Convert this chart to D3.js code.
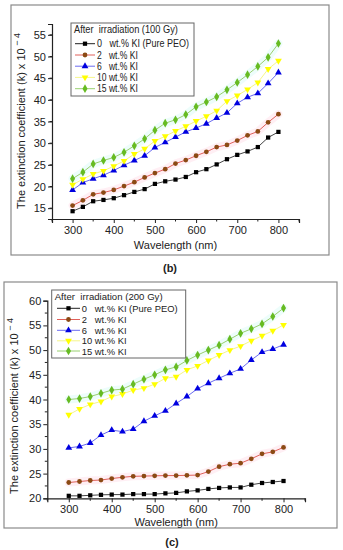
<!DOCTYPE html>
<html><head><meta charset="utf-8">
<script src="https://cdn.jsdelivr.net/npm/d3@7"></script>
<style>
html,body{margin:0;padding:0;background:#fff;}
svg{display:block;}
text{font-family:"Liberation Sans",Arial,sans-serif;fill:#222;}
</style></head>
<body>
<script>
// ---------- DATA ----------
const wavelengths = [300,325,350,375,400,425,450,475,500,525,550,575,600,625,650,675,700,725,750,775,800];
const seriesLabels = ["0   wt.% KI (Pure PEO)","2   wt.% KI","6   wt.% KI","10 wt.% KI","15 wt.% KI"];
const xTicks = [300,400,500,600,700,800];

// (b) After irradiation (100 Gy)
const b_0wt  = [14.3,15.3,16.6,16.9,17.3,18.0,18.75,19.4,20.6,21.2,21.6,22.2,23.3,24.0,25.1,26.3,27.3,28.1,29.1,31.3,32.6];
const b_2wt  = [15.6,16.8,18.2,18.6,19.2,20.1,21.0,22.1,23.1,24.0,25.3,26.1,27.1,28.0,29.1,29.6,30.6,31.8,32.7,34.8,36.7];
const b_6wt  = [19.2,20.9,21.8,22.6,23.7,24.9,26.0,27.1,29.0,30.2,31.4,32.6,33.5,34.5,35.8,37.0,39.2,40.6,41.5,43.8,46.3];
const b_10wt = [20.4,21.7,22.9,23.6,24.7,25.9,27.5,28.7,30.5,31.6,32.8,33.9,35.1,36.2,37.5,39.7,41.0,42.4,44.0,47.1,49.0];
const b_15wt = [21.8,23.3,25.2,26.0,26.7,27.9,29.4,31.0,33.0,34.6,35.4,36.6,38.4,39.5,40.7,42.3,44.0,45.8,47.7,49.8,53.0];
const b_yTicks = [15,20,25,30,35,40,45,50,55];

// (c) After irradiation (200 Gy)
const c_0wt  = [20.5,20.5,20.6,20.7,20.75,20.75,20.85,20.85,20.85,21.0,21.1,21.4,21.6,21.9,22.1,22.2,22.2,22.75,23.1,23.3,23.5];
const c_2wt  = [23.2,23.4,23.6,23.7,24.0,24.25,24.45,24.5,24.55,24.6,24.6,24.65,24.7,25.4,26.4,26.9,27.1,28.0,29.0,29.4,30.3];
const c_6wt  = [30.2,30.5,31.2,32.8,33.8,33.5,34.0,35.6,36.7,37.7,39.2,40.6,42.2,43.3,44.3,45.3,46.2,48.0,49.6,50.2,51.1];
const c_10wt = [36.9,38.1,39.0,39.6,40.6,41.1,41.9,42.3,43.1,44.3,44.6,46.0,46.8,47.9,49.0,50.0,50.8,51.9,52.9,53.9,55.1];
const c_15wt = [40.0,40.2,40.6,41.25,41.9,42.1,43.1,44.1,45.0,46.0,46.6,47.9,49.0,50.0,51.0,52.2,53.4,54.3,55.3,56.8,58.5];
const c_yTicks = [20,25,30,35,40,45,50,55,60];

// ---------- STYLES ----------
const styles = [
  {sym:d3.symbolSquare,   fill:"#000000", line:"#444444", size:18, rot:0},
  {sym:d3.symbolCircle,   fill:"#8b4a14", line:"#e0605a", size:18, rot:0},
  {sym:d3.symbolTriangle, fill:"#0000e0", line:"#6a6af0", size:20, rot:0},
  {sym:d3.symbolTriangle, fill:"#ffff00", line:"#f6f68a", size:20, rot:180},
  {sym:d3.symbolDiamond,  fill:"#66bb22", line:"#99d070", size:22, rot:0}
];

const svg = d3.select("body").append("svg").attr("width",343).attr("height",550);

// text fitted horizontally to a target width
function wideText(g, x, y, str, fs, w){
  const t = g.append("text").attr("x",0).attr("y",0).attr("font-size",fs)
    .attr("xml:space","preserve").style("white-space","pre").text(str);
  const len = t.node().getComputedTextLength() || w;
  t.attr("transform",`translate(${x},${y}) scale(${w/len},1)`);
  return t;
}

function panel(cfg){
  const g = svg.append("g");
  g.append("rect").attr("x",cfg.frame[0]).attr("y",cfg.frame[1])
    .attr("width",cfg.frame[2]-cfg.frame[0]).attr("height",cfg.frame[3]-cfg.frame[1])
    .attr("fill","none").attr("stroke","#8a8a8a").attr("stroke-width",1.2);

  const x = d3.scaleLinear().domain([250,850]).range(cfg.xr);
  const y = d3.scaleLinear().domain(cfg.yd).range(cfg.yr);

  const haloLine = d3.line().x((d,i)=>x(wavelengths[i])).y(d=>y(d));
  g.append("path").datum(cfg.series[1]).attr("d",haloLine).attr("fill","none")
    .attr("stroke","#ffd6e4").attr("stroke-width",8).attr("stroke-linecap","round").attr("opacity",0.4);
  g.append("path").datum(cfg.series[4]).attr("d",haloLine).attr("fill","none")
    .attr("stroke","#d2fbf6").attr("stroke-width",8).attr("stroke-linecap","round").attr("opacity",0.4);

  const xAxis = d3.axisBottom(x).tickValues(xTicks).tickSize(4).tickPadding(3);
  const xa = g.append("g").attr("transform",`translate(0,${cfg.yr[0]})`).call(xAxis);
  xa.select(".domain").attr("stroke","#222").attr("stroke-width",1.2);
  xa.selectAll(".tick line").attr("stroke","#222");
  xa.selectAll("text").attr("font-size",11).attr("fill","#222");
  g.append("g").selectAll("line").data([250,350,450,550,650,750,850]).join("line")
    .attr("x1",d=>x(d)).attr("x2",d=>x(d)).attr("y1",cfg.yr[0]).attr("y2",cfg.yr[0]+2.5)
    .attr("stroke","#222");

  const yAxis = d3.axisLeft(y).tickValues(cfg.yTicks).tickSize(4).tickPadding(2);
  const ya = g.append("g").attr("transform",`translate(${cfg.xr[0]},0)`).call(yAxis);
  ya.select(".domain").attr("stroke","#222").attr("stroke-width",1.2);
  ya.selectAll(".tick line").attr("stroke","#222");
  ya.selectAll("text").attr("font-size",11).attr("fill","#222");
  const minorY = d3.range(cfg.yd[0]+2.5, cfg.yd[1]+0.01, 5);
  g.append("g").selectAll("line").data(minorY).join("line")
    .attr("x1",cfg.xr[0]-2.5).attr("x2",cfg.xr[0]).attr("y1",d=>y(d)).attr("y2",d=>y(d))
    .attr("stroke","#222");

  g.append("text").attr("x",(cfg.xr[0]+cfg.xr[1])/2).attr("y",cfg.xlabY)
    .attr("text-anchor","middle").attr("font-size",11).text("Wavelength (nm)");
  const yl = g.append("text").attr("transform",`translate(${cfg.ylabX},${cfg.ylabY}) rotate(-90)`)
    .attr("text-anchor","middle").attr("font-size",11);
  yl.append("tspan").text("The extinction coefficient (k) x 10");
  yl.append("tspan").attr("dy",-5).attr("font-size",9).attr("xml:space","preserve").text(" \u2212 4");

  cfg.series.forEach((vals,si)=>{
    const st = styles[si];
    const line = d3.line().x((d,i)=>x(wavelengths[i])).y(d=>y(d));
    g.append("path").datum(vals).attr("d",line).attr("fill","none")
      .attr("stroke",st.line).attr("stroke-width",1);
    g.append("g").selectAll("path").data(vals).join("path")
      .attr("d",d3.symbol().type(st.sym).size(st.size))
      .attr("transform",(d,i)=>`translate(${x(wavelengths[i])},${y(d)}) rotate(${st.rot})`)
      .attr("fill",st.fill);
  });

  const L = cfg.legend;
  g.append("rect").attr("x",L.x0).attr("y",L.y0).attr("width",L.x1-L.x0).attr("height",L.y1-L.y0)
    .attr("fill","#fff").attr("stroke","#666").attr("stroke-width",1);
  wideText(g, L.x0+3, L.titleY+3.5, cfg.title, L.fs, L.titleW);
  L.rows.forEach((ry,si)=>{
    const st = styles[si];
    g.append("line").attr("x1",L.lx0).attr("x2",L.lx1).attr("y1",ry).attr("y2",ry)
      .attr("stroke",si===0?"#222":st.line).attr("stroke-width",1);
    g.append("path").attr("d",d3.symbol().type(st.sym).size(st.size))
      .attr("transform",`translate(${(L.lx0+L.lx1)/2},${ry}) rotate(${st.rot})`).attr("fill",st.fill);
    wideText(g, L.tx, ry+3.5, seriesLabels[si], L.fs, L.widths[si]);
  });

  g.append("text").attr("x",cfg.tag[0]).attr("y",cfg.tag[1]).attr("text-anchor","middle")
    .attr("font-size",11).attr("font-weight","bold").attr("font-family","Liberation Serif, serif")
    .text(cfg.tagText);
}

panel({
  frame:[11,5,329,255],
  xr:[52,299], yd:[12.5,57.5], yr:[219,24], yTicks:b_yTicks,
  series:[b_0wt,b_2wt,b_6wt,b_10wt,b_15wt],
  xlabY:249, ylabX:25, ylabY:121,
  title:"After  irradiation (100 Gy)",
  legend:{x0:71,x1:194,y0:23,y1:96,titleY:29.5,rows:[43.7,55,66.2,77.4,88.7],lx0:75,lx1:95,tx:97,fs:10,
          titleW:104, widths:[92,41,41,41,41]},
  tag:[170,272], tagText:"(b)"
});

panel({
  frame:[4,282,337,528],
  xr:[47.3,305], yd:[20,60], yr:[498.3,300.7], yTicks:c_yTicks,
  series:[c_0wt,c_2wt,c_6wt,c_10wt,c_15wt],
  xlabY:526, ylabX:18, ylabY:406,
  title:"After  irradiation (200 Gy)",
  legend:{x0:51.7,x1:185.7,y0:290,y1:358,titleY:296.7,rows:[308.3,319.5,330.3,340.8,351],lx0:57,lx1:80,tx:81.7,fs:9.3,
          titleW:108, widths:[96,45,45,45,45]},
  tag:[172,546], tagText:"(c)"
});
</script>
</body></html>
